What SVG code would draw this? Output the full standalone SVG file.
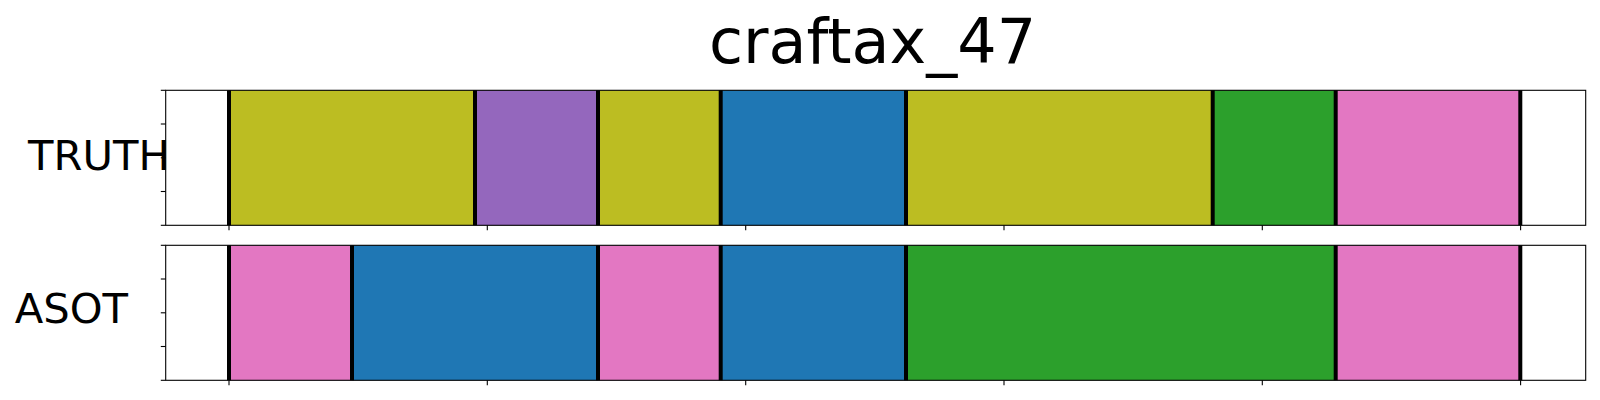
<svg xmlns="http://www.w3.org/2000/svg" width="1600" height="400" viewBox="0 0 1600 400">
<style>
.lbl{font-family:"DejaVu Sans",sans-serif;fill:#000}
.frame{fill:none;stroke:#000;stroke-width:1.1}
.tick{stroke:#000;stroke-width:1.1}
.bnd{stroke:#000;stroke-width:4}
.ol{fill:#bcbd22}.pu{fill:#9467bd}.bl{fill:#1f77b4}.gr{fill:#2ca02c}.pk{fill:#e377c2}
</style>
<rect width="1600" height="400" fill="#fff"/>
<text class="lbl" x="872.5" y="63.3" font-size="62" text-anchor="middle">craftax_47</text>
<g id="truth">
<rect class="ol" x="229" y="90.3" width="246" height="135"/>
<rect class="pu" x="475" y="90.3" width="123" height="135"/>
<rect class="ol" x="598" y="90.3" width="122.7" height="135"/>
<rect class="bl" x="720.7" y="90.3" width="185.3" height="135"/>
<rect class="ol" x="906" y="90.3" width="306.7" height="135"/>
<rect class="gr" x="1212.7" y="90.3" width="123" height="135"/>
<rect class="pk" x="1335.7" y="90.3" width="184.6" height="135"/>
<g class="bnd">
<line x1="229" y1="90.3" x2="229" y2="225.3"/>
<line x1="475" y1="90.3" x2="475" y2="225.3"/>
<line x1="598" y1="90.3" x2="598" y2="225.3"/>
<line x1="720.7" y1="90.3" x2="720.7" y2="225.3"/>
<line x1="906" y1="90.3" x2="906" y2="225.3"/>
<line x1="1212.7" y1="90.3" x2="1212.7" y2="225.3"/>
<line x1="1335.7" y1="90.3" x2="1335.7" y2="225.3"/>
<line x1="1520.3" y1="90.3" x2="1520.3" y2="225.3"/>
</g>
<rect class="frame" x="165.7" y="90.3" width="1420" height="135"/>
<g class="tick">
<line x1="160.8" y1="90.3" x2="165.7" y2="90.3"/>
<line x1="160.8" y1="124" x2="165.7" y2="124"/>
<line x1="160.8" y1="157.8" x2="165.7" y2="157.8"/>
<line x1="160.8" y1="191.5" x2="165.7" y2="191.5"/>
<line x1="160.8" y1="225.3" x2="165.7" y2="225.3"/>
<line x1="229" y1="225.3" x2="229" y2="230.2"/>
<line x1="487.3" y1="225.3" x2="487.3" y2="230.2"/>
<line x1="745.7" y1="225.3" x2="745.7" y2="230.2"/>
<line x1="1004" y1="225.3" x2="1004" y2="230.2"/>
<line x1="1262.3" y1="225.3" x2="1262.3" y2="230.2"/>
<line x1="1520.6" y1="225.3" x2="1520.6" y2="230.2"/>
</g>
<text class="lbl" x="28" y="170" font-size="41.7">TRUTH</text>
</g>
<g id="asot">
<rect class="pk" x="229" y="245.3" width="123" height="135"/>
<rect class="bl" x="352" y="245.3" width="246" height="135"/>
<rect class="pk" x="598" y="245.3" width="122.7" height="135"/>
<rect class="bl" x="720.7" y="245.3" width="185.3" height="135"/>
<rect class="gr" x="906" y="245.3" width="429.7" height="135"/>
<rect class="pk" x="1335.7" y="245.3" width="184.6" height="135"/>
<g class="bnd">
<line x1="229" y1="245.3" x2="229" y2="380.3"/>
<line x1="352" y1="245.3" x2="352" y2="380.3"/>
<line x1="598" y1="245.3" x2="598" y2="380.3"/>
<line x1="720.7" y1="245.3" x2="720.7" y2="380.3"/>
<line x1="906" y1="245.3" x2="906" y2="380.3"/>
<line x1="1335.7" y1="245.3" x2="1335.7" y2="380.3"/>
<line x1="1520.3" y1="245.3" x2="1520.3" y2="380.3"/>
</g>
<rect class="frame" x="165.7" y="245.3" width="1420" height="135"/>
<g class="tick">
<line x1="160.8" y1="245.3" x2="165.7" y2="245.3"/>
<line x1="160.8" y1="279" x2="165.7" y2="279"/>
<line x1="160.8" y1="312.8" x2="165.7" y2="312.8"/>
<line x1="160.8" y1="346.5" x2="165.7" y2="346.5"/>
<line x1="160.8" y1="380.3" x2="165.7" y2="380.3"/>
<line x1="229" y1="380.3" x2="229" y2="385.2"/>
<line x1="487.3" y1="380.3" x2="487.3" y2="385.2"/>
<line x1="745.7" y1="380.3" x2="745.7" y2="385.2"/>
<line x1="1004" y1="380.3" x2="1004" y2="385.2"/>
<line x1="1262.3" y1="380.3" x2="1262.3" y2="385.2"/>
<line x1="1520.6" y1="380.3" x2="1520.6" y2="385.2"/>
</g>
<text class="lbl" x="14.7" y="323.3" font-size="41.7">ASOT</text>
</g>
</svg>
